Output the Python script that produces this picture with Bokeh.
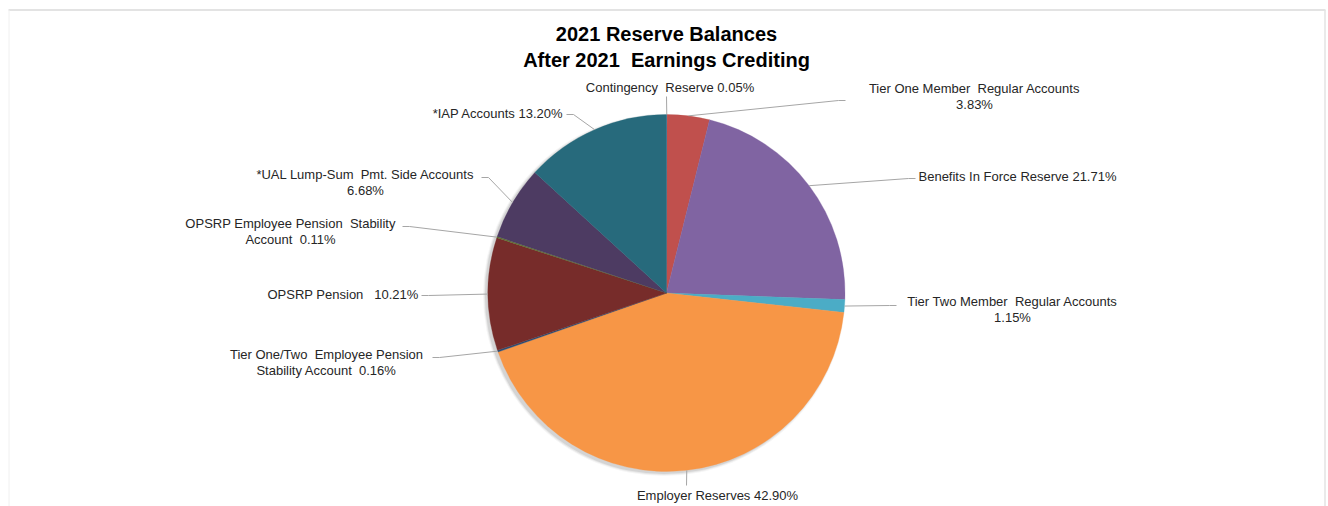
import numpy as np
from bokeh.plotting import figure
from bokeh.models import Range1d
from bokeh.core.properties import value
from bokeh.embed import file_html
from bokeh.resources import INLINE

# ---------------- data ----------------
categories = [
    "Contingency Reserve",
    "Tier One Member Regular Accounts",
    "Benefits In Force Reserve",
    "Tier Two Member Regular Accounts",
    "Employer Reserves",
    "Tier One/Two Employee Pension Stability Account",
    "OPSRP Pension",
    "OPSRP Employee Pension Stability Account",
    "*UAL Lump-Sum Pmt. Side Accounts",
    "*IAP Accounts",
]
percents = [0.05, 3.83, 21.71, 1.15, 42.90, 0.16, 10.21, 0.11, 6.68, 13.20]
colors = ["#4F81BD", "#C0504D", "#8064A2", "#4BACC6", "#F79646",
          "#2C4D75", "#772C2A", "#5F7530", "#4D3B62", "#276A7C"]
NB = "\u00a0"
label_lines = [
    ["Contingency" + NB + " Reserve 0.05%"],
    ["Tier One Member" + NB + " Regular Accounts", "3.83%"],
    ["Benefits In Force Reserve 21.71%"],
    ["Tier Two Member" + NB + " Regular Accounts", "1.15%"],
    ["Employer Reserves 42.90%"],
    ["Tier One/Two" + NB + " Employee Pension", "Stability Account" + NB + " 0.16%"],
    ["OPSRP Pension" + NB + NB + " 10.21%"],
    ["OPSRP Employee Pension" + NB + " Stability", "Account" + NB + " 0.11%"],
    ["*UAL Lump-Sum" + NB + " Pmt. Side Accounts", "6.68%"],
    ["*IAP Accounts 13.20%"],
]
title_lines = ["2021 Reserve Balances", "After 2021" + NB + " Earnings Crediting"]

# ---------------- layout (pixel coordinates, y down) ----------------
W, H = 1328, 506
CX, CY_PX, R = 666, 292.5, 178.5
# label anchor x, first-line y, alignment
label_x = [669.5, 974, 918, 1012, 717, 326, 418, 290, 365, 563]
label_y = [87, 88, 176, 301, 495, 354, 294, 223, 174, 113]
label_align = ["center", "center", "left", "center", "center",
               "center", "right", "center", "center", "right"]
# leader line start points (near label)
lead_x = [666, 845, 915, 896, 686, 432, 421, 402, 481, 566]
lead_y = [96, 100, 178, 305, 485, 357, 295, 226, 177, 114]
lead_kink = [0, -7, -7, -7, 0, 7, 7, 7, 7, 7]
LINE_H = 16


def Y(ypx):
    return H - ypx


CY = Y(CY_PX)

p = figure(width=W, height=H, output_backend="svg", toolbar_location=None,
           x_range=Range1d(0, W), y_range=Range1d(0, H), min_border=0)
p.axis.visible = False
p.grid.visible = False
p.outline_line_color = None
p.background_fill_color = "white"
p.border_fill_color = "white"

# chart area border
p.line([8, 1325], [Y(9.5), Y(9.5)], line_color="#e3e3e3", line_width=2)
p.line([8.5, 8.5], [Y(9.5), 0], line_color="#f0f0f0", line_width=1)
p.line([1324.5, 1324.5], [Y(9.5), 0], line_color="#e3e3e3", line_width=1.5)

# soft shadow
for dr, a in [(2.5, 0.04), (1.5, 0.06), (0.6, 0.08)]:
    p.circle(x=CX - 2.5, y=CY - 2.0, radius=R + dr, fill_color="#000000",
             fill_alpha=a, line_color=None)

# wedges
vals = np.array(percents) / 100.0
cum = np.concatenate([[0.0], np.cumsum(vals)])
start_frac = cum[:-1]
end_frac = cum[1:]
p.wedge(x=CX, y=CY, radius=R,
        start_angle=np.pi / 2 - 2 * np.pi * end_frac,
        end_angle=np.pi / 2 - 2 * np.pi * start_frac,
        fill_color=colors, line_color=colors, line_width=0.3)

# leader lines
mid = (start_frac + end_frac) / 2 * 2 * np.pi
arc_x = CX + R * np.sin(mid)
arc_y = CY + R * np.cos(mid)
xs, ys = [], []
for i in range(len(percents)):
    if lead_kink[i] == 0:
        xs.append([lead_x[i], arc_x[i]])
        ys.append([Y(lead_y[i]), arc_y[i]])
    else:
        xs.append([lead_x[i], lead_x[i] + lead_kink[i], arc_x[i]])
        ys.append([Y(lead_y[i]), Y(lead_y[i]), arc_y[i]])
p.multi_line(xs=xs, ys=ys, line_color="#a6a6a6", line_width=1)

# labels
for i, lines in enumerate(label_lines):
    for j, t in enumerate(lines):
        p.text(x=[label_x[i]], y=[Y(label_y[i] + j * LINE_H)], text=[t],
               text_align=label_align[i], text_baseline="middle",
               text_font=value("Liberation Sans"),
               text_font_size=value("13px"), text_color="#262626")

# title
for j, t in enumerate(title_lines):
    p.text(x=[666], y=[Y(33 + j * 26)], text=[t], text_align="center",
           text_baseline="middle", text_font=value("Liberation Sans"),
           text_font_style="bold", text_font_size=value("20px"),
           text_color="#000000")

open("out.html", "w").write(file_html(p, INLINE))
